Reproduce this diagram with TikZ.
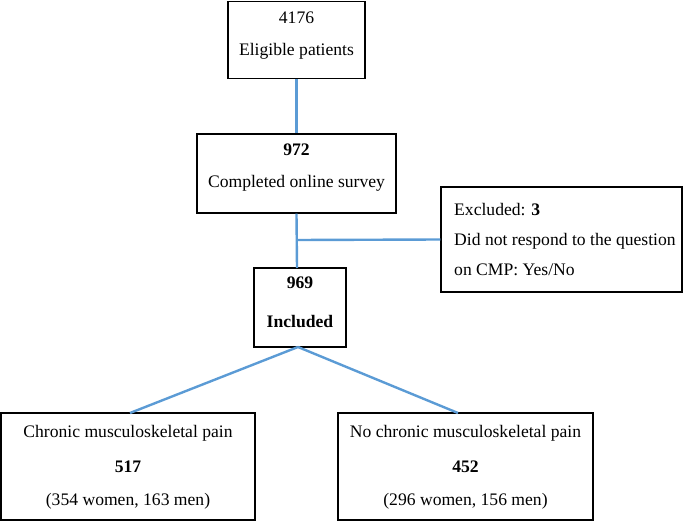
\documentclass[tikz,border=0pt]{standalone}
\usepackage{fontspec}
\setmainfont{Liberation Serif}
\definecolor{conn}{RGB}{91,155,213}
\begin{document}
\begin{tikzpicture}[x=1pt,y=-1pt,
  thinbox/.style={draw=black,line width=1.3pt,fill=white,inner sep=0pt},
  thickbox/.style={draw=black,line width=2.9pt,fill=white,inner sep=0pt},
  txt/.style={anchor=base,inner sep=0pt,font=\fontsize{17.6}{22}\selectfont},
  ltxt/.style={anchor=base west,inner sep=0pt,font=\fontsize{17.6}{22}\selectfont},
  link/.style={draw=conn,line width=2.4pt}]
\useasboundingbox (0,0) rectangle (685,521);
% boxes
\node[thinbox,minimum width=137pt,minimum height=77pt] (b1) at (296.5,40) {};
\node[thinbox,minimum width=199pt,minimum height=79pt] (b2) at (296.5,173.5) {};
\node[thinbox,minimum width=241pt,minimum height=105pt] (ex) at (561.5,239.5) {};
\node[thickbox,minimum width=92pt,minimum height=79pt] (b3) at (300,307.5) {};
\node[thickbox,minimum width=254pt,minimum height=107pt] (L) at (128,466.5) {};
\node[thickbox,minimum width=255pt,minimum height=107pt] (R) at (465.5,466.5) {};
% texts
\node[txt] (t1a) at (296.5,24) {4176};
\node[txt] (t1b) at (296.5,56) {Eligible patients};
\node[txt] (t2a) at (296.5,156) {\textbf{972}};
\node[txt] (t2b) at (296.5,188) {Completed online survey};
\node[ltxt] (tea) at (454,216) {Excluded: \textbf{3}};
\node[ltxt] (teb) at (454,246) {Did not respond to the question};
\node[ltxt] (tec) at (454,276) {on CMP: Yes/No};
\node[txt] (t3a) at (300,288) {\textbf{969}};
\node[txt] (t3b) at (300,327) {\textbf{Included}};
\node[txt] (tla) at (128,437) {Chronic musculoskeletal pain};
\node[txt] (tlb) at (128,472) {\textbf{517}};
\node[txt] (tlc) at (128,505) {(354 women, 163 men)};
\node[txt] (tra) at (465.5,437) {No chronic musculoskeletal pain};
\node[txt] (trb) at (465.5,472) {\textbf{452}};
\node[txt] (trc) at (465.5,505) {(296 women, 156 men)};
% connectors
\coordinate (j) at (297,240);
\coordinate (b3top) at (297,268);
\coordinate (b3bot) at (298,347);
\coordinate (Ltop) at (130,413);
\coordinate (Rtop) at (458,413);
\draw[link] (b1.south) -- (b2.north);
\draw[link] (b2.south) -- (b3top);
\draw[link] (j) -- (ex.west);
\draw[link] (b3bot) -- (Ltop);
\draw[link] (b3bot) -- (Rtop);
\end{tikzpicture}
\end{document}
